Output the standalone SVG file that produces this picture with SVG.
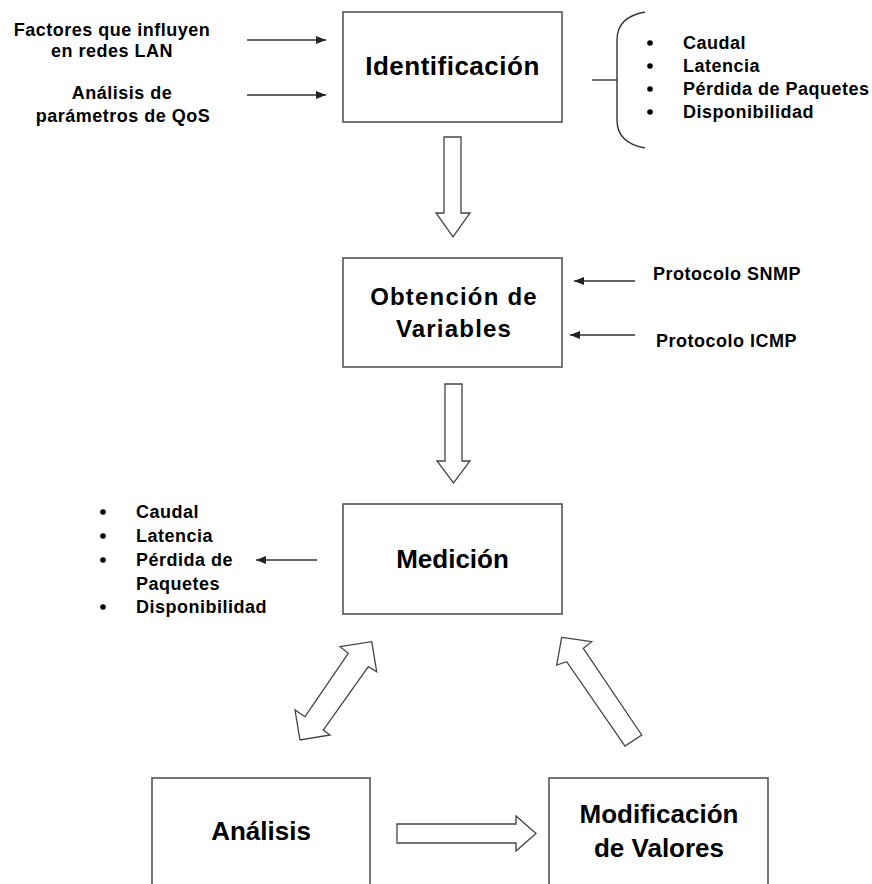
<svg xmlns="http://www.w3.org/2000/svg" width="872" height="884" viewBox="0 0 872 884">
<defs>
<style>
.box{fill:#fff;stroke:#555;stroke-width:1.6}
.big{font-family:"Liberation Sans",Arial,sans-serif;font-weight:bold;font-size:26px;fill:#000;text-anchor:middle}
.mid{font-family:"Liberation Sans",Arial,sans-serif;font-weight:bold;font-size:24px;fill:#000;text-anchor:middle;letter-spacing:1.2px}
.sm{font-family:"Liberation Sans",Arial,sans-serif;font-weight:bold;font-size:18px;fill:#000;letter-spacing:0.5px}
.c{text-anchor:middle}
.ln{fill:none;stroke:#333;stroke-width:1.4}
.blk{fill:#fff;stroke:#444;stroke-width:1.3;stroke-linejoin:miter}
.dot{fill:#000}
</style>
<marker id="ah" viewBox="0 0 10 8" refX="10" refY="4" markerWidth="10" markerHeight="8" markerUnits="userSpaceOnUse" orient="auto">
<path d="M0,0 L10,4 L0,8 Z" fill="#222"/>
</marker>
</defs>
<rect width="872" height="884" fill="#fff"/>

<g id="inputs-top">
<text class="sm c" x="112" y="36">Factores que influyen</text>
<text class="sm c" x="112" y="57">en redes LAN</text>
<text class="sm c" x="122" y="99">Análisis de</text>
<text class="sm c" x="123" y="122">parámetros de QoS</text>
</g>

<g id="identificacion">
<rect class="box" x="343" y="12" width="219" height="110"/>
<text class="big" x="452.5" y="75" style="letter-spacing:0.5px">Identificación</text>
</g>

<g id="list-right">
<path class="ln" d="M645,12 Q617,17 617,40 L617,120 Q617,143 645,148"/>
<line class="ln" x1="592" y1="80" x2="617" y2="80"/>
<circle class="dot" cx="650" cy="43" r="2.8"/>
<circle class="dot" cx="650" cy="66" r="2.8"/>
<circle class="dot" cx="650" cy="89" r="2.8"/>
<circle class="dot" cx="650" cy="112" r="2.8"/>
<text class="sm" x="683" y="49">Caudal</text>
<text class="sm" x="683" y="72">Latencia</text>
<text class="sm" x="683" y="95">Pérdida de Paquetes</text>
<text class="sm" x="683" y="118">Disponibilidad</text>
</g>

<g id="obtencion">
<rect class="box" x="343" y="258" width="219" height="109"/>
<text class="mid" x="454" y="305">Obtención de</text>
<text class="mid" x="454" y="337">Variables</text>
</g>

<g id="protocolos">
<text class="sm" x="653" y="280">Protocolo SNMP</text>
<text class="sm" x="656" y="347">Protocolo ICMP</text>
</g>

<g id="medicion">
<rect class="box" x="343" y="504" width="219" height="110"/>
<text class="big" x="452.5" y="568">Medición</text>
</g>

<g id="list-left">
<circle class="dot" cx="103" cy="512" r="2.8"/>
<circle class="dot" cx="103" cy="536" r="2.8"/>
<circle class="dot" cx="103" cy="560" r="2.8"/>
<circle class="dot" cx="103" cy="607" r="2.8"/>
<text class="sm" x="136" y="518">Caudal</text>
<text class="sm" x="136" y="542">Latencia</text>
<text class="sm" x="136" y="566">Pérdida de</text>
<text class="sm" x="136" y="590">Paquetes</text>
<text class="sm" x="136" y="613">Disponibilidad</text>
</g>

<g id="analisis">
<rect class="box" x="152" y="778" width="218" height="120"/>
<text class="big" x="261" y="840">Análisis</text>
</g>

<g id="modificacion">
<rect class="box" x="549" y="778" width="219" height="120"/>
<text class="big" x="659" y="823">Modificación</text>
<text class="big" x="659" y="857">de Valores</text>
</g>

<g id="connectors">
<line class="ln" x1="247" y1="40" x2="326" y2="40" marker-end="url(#ah)"/>
<line class="ln" x1="247" y1="95" x2="326" y2="95" marker-end="url(#ah)"/>
<line class="ln" x1="635" y1="281" x2="574" y2="281" marker-end="url(#ah)"/>
<line class="ln" x1="635" y1="335" x2="570" y2="335" marker-end="url(#ah)"/>
<line class="ln" x1="317" y1="560" x2="256" y2="560" marker-end="url(#ah)"/>
<polygon class="blk" points="444,137 461,137 461,213 470,213 453,237 436,213 444,213"/>
<polygon class="blk" points="445,384 462,384 462,461 470,461 453.5,483 437,461 445,461"/>
<polygon class="blk" points="397,824 516,824 516,816 536,833.5 516,851 516,843 397,843"/>
<polygon class="blk" points="371.7,641.7 376.7,671.7 368.3,666.7 323.3,730 330,735 300,740 295,710 305,716.7 348.3,653.3 340,646.7"/>
<polygon class="blk" points="561.7,637.3 591.7,641.7 583.3,648.3 641.7,735 625,746 566.7,661.7 556.7,665"/>
</g>
</svg>
